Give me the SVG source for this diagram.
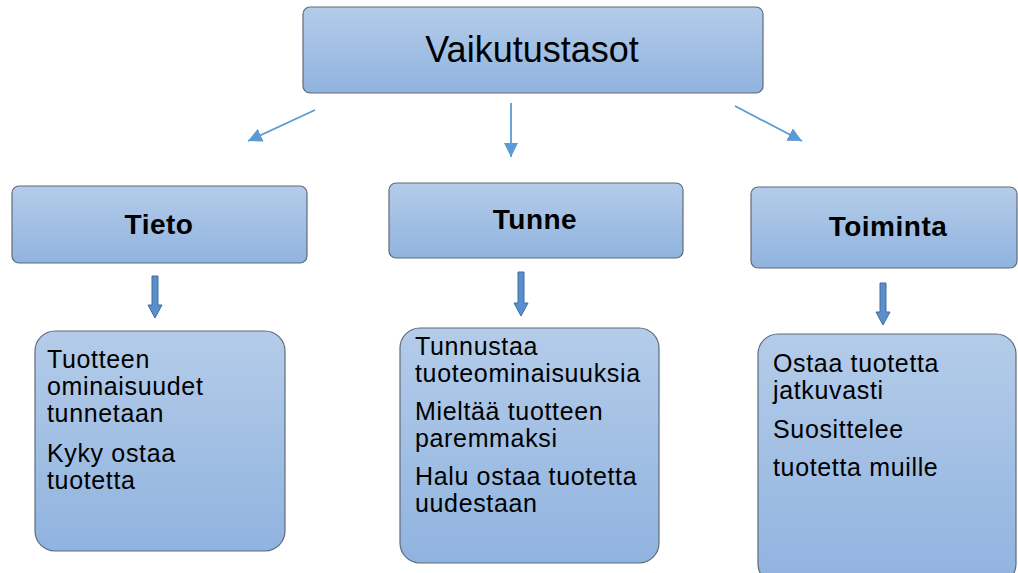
<svg xmlns="http://www.w3.org/2000/svg" width="1018" height="573" viewBox="0 0 1018 573">
<defs>
<linearGradient id="g" x1="0" y1="0" x2="0" y2="1">
<stop offset="0" stop-color="#b4cce9"/>
<stop offset="1" stop-color="#90b3df"/>
</linearGradient>
<marker id="ah" markerWidth="14" markerHeight="14" refX="10" refY="5" orient="auto" markerUnits="userSpaceOnUse" viewBox="0 0 10 10">
<path d="M0,0 L10,5 L0,10 Z" fill="#5b9bd5"/>
</marker>
<style>
.box{fill:url(#g);stroke:#5f6b78;stroke-width:1.2}
.title{font-family:"Liberation Sans",Arial,sans-serif;font-size:36px;fill:#000}
.head{font-family:"Liberation Sans",Arial,sans-serif;font-size:28px;font-weight:bold;fill:#000;letter-spacing:0.5px}
.body{font-family:"Liberation Sans",Arial,sans-serif;font-size:25px;fill:#000;letter-spacing:0.65px}
.conn{stroke:#5b9bd5;stroke-width:1.8;fill:none}
.barrow{fill:#5b8fcb;stroke:#3e6c9e;stroke-width:1}
</style>
</defs>
<g id="n-top">
<rect class="box" x="303" y="7" width="460" height="86" rx="7"/>
<text class="title" x="532" y="62" text-anchor="middle">Vaikutustasot</text>
</g>
<g id="n-tieto">
<rect class="box" x="12" y="186" width="295" height="77" rx="7"/>
<text class="head" x="159" y="234" text-anchor="middle">Tieto</text>
</g>
<g id="n-tunne">
<rect class="box" x="389" y="183" width="294" height="75" rx="7"/>
<text class="head" x="535" y="229" text-anchor="middle">Tunne</text>
</g>
<g id="n-toiminta">
<rect class="box" x="751" y="187" width="266" height="81" rx="7"/>
<text class="head" x="888" y="236" text-anchor="middle">Toiminta</text>
</g>
<g id="n-tieto-detail">
<rect class="box" x="35" y="331" width="250" height="220" rx="20"/>
<text class="body" x="47" y="368">Tuotteen</text>
<text class="body" x="47" y="395">ominaisuudet</text>
<text class="body" x="47" y="422">tunnetaan</text>
<text class="body" x="47" y="462">Kyky ostaa</text>
<text class="body" x="47" y="489">tuotetta</text>
</g>
<g id="n-tunne-detail">
<rect class="box" x="400" y="328" width="259" height="235" rx="20"/>
<text class="body" x="415" y="355">Tunnustaa</text>
<text class="body" x="415" y="382">tuoteominaisuuksia</text>
<text class="body" x="415" y="420">Mieltää tuotteen</text>
<text class="body" x="415" y="447">paremmaksi</text>
<text class="body" x="415" y="485">Halu ostaa tuotetta</text>
<text class="body" x="415" y="512">uudestaan</text>
</g>
<g id="n-toiminta-detail">
<rect class="box" x="758" y="334" width="258" height="250" rx="20"/>
<text class="body" x="773" y="372">Ostaa tuotetta</text>
<text class="body" x="773" y="399">jatkuvasti</text>
<text class="body" x="773" y="438">Suosittelee</text>
<text class="body" x="773" y="476">tuotetta muille</text>
</g>
<g id="connectors">
<line class="conn" x1="315" y1="110" x2="248" y2="141" marker-end="url(#ah)"/>
<line class="conn" x1="511" y1="103" x2="511" y2="157" marker-end="url(#ah)"/>
<line class="conn" x1="735" y1="106" x2="802" y2="141" marker-end="url(#ah)"/>
<path class="barrow" d="M152,276 H158 V305 H162 L155,318 L148,305 H152 Z"/>
<path class="barrow" d="M518,272 H524 V303 H528 L521,316 L514,303 H518 Z"/>
<path class="barrow" d="M880,283 H886 V312 H890 L883,325 L876,312 H880 Z"/>
</g>
</svg>
